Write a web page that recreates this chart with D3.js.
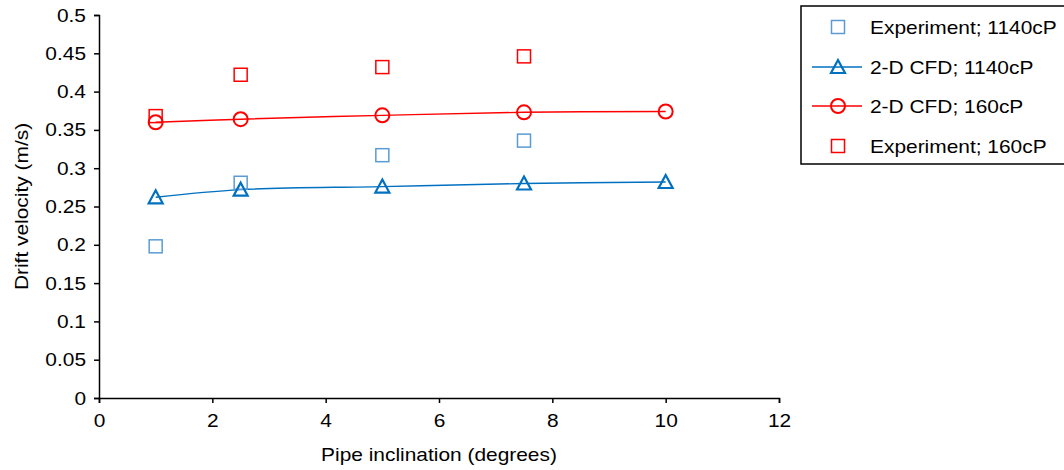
<!DOCTYPE html>
<html lang="en">
<head>
	<meta charset="UTF-8">
	<title>Drift velocity</title>
	<script src="https://cdn.jsdelivr.net/npm/d3@7"></script>
	<style>
		body { margin: 0; background: white; }
		svg text { font-family: "Liberation Sans", Arial, sans-serif; fill: #000; }
	</style>
</head>
<body>
	<div id="vis"></div>

	<script>
		// inclination angles (degrees)
		var expX = [1, 2.5, 5, 7.5];
		var cfdX = [1, 2.5, 5, 7.5, 10];

		// drift velocity (m/s)
		var exp1140 = [0.198, 0.281, 0.317, 0.336];
		var cfd1140 = [0.262, 0.272, 0.276, 0.280, 0.282];
		var cfd160 = [0.360, 0.364, 0.369, 0.373, 0.374];
		var exp160 = [0.368, 0.422, 0.432, 0.446];

		var xTicks = [0, 2, 4, 6, 8, 10, 12];
		var yTicks = [0, 0.05, 0.1, 0.15, 0.2, 0.25, 0.3, 0.35, 0.4, 0.45, 0.5];

		var legendLabels = ["Experiment; 1140cP", "2-D CFD; 1140cP", "2-D CFD; 160cP", "Experiment; 160cP"];

		var width = 1064;
		var height = 470;
		var margin = {left: 99, right: 285, top: 15, bottom: 72};
		var fontSize = 19;

		var svg = d3.select("#vis").append("svg")
				.attr("width", width)
				.attr("height", height);

		var x = d3.scaleLinear().domain([0, 12]).range([margin.left, width - margin.right]);
		var y = d3.scaleLinear().domain([0, 0.5]).range([height - margin.bottom, margin.top]);

		// axes
		var xAxis = svg.append("g")
			.attr("transform", "translate(0," + y(0) + ")")
			.call(d3.axisBottom(x).tickValues(xTicks).tickSize(5).tickPadding(11).tickFormat(d3.format("d")));

		var yAxis = svg.append("g")
			.attr("transform", "translate(" + x(0) + ",0)")
			.call(d3.axisLeft(y).tickValues(yTicks).tickSize(5).tickPadding(8).tickFormat(function(d){ return d === 0 ? "0" : String(+d.toFixed(2)); }));

		[xAxis, yAxis].forEach(function(g){
			g.select(".domain").attr("stroke", "#000").attr("stroke-width", 1.5);
			g.selectAll(".tick line").attr("stroke", "#000").attr("stroke-width", 1.5);
			g.selectAll(".tick text").attr("font-size", fontSize).attr("fill", "#000");
		});

		// axis titles
		svg.append("text")
			.attr("x", x(6))
			.attr("y", 461)
			.attr("text-anchor", "middle")
			.attr("font-size", fontSize)
			.text("Pipe inclination (degrees)");

		svg.append("text")
			.attr("transform", "translate(28," + y(0.25) + ") rotate(-90)")
			.attr("text-anchor", "middle")
			.attr("font-size", fontSize)
			.text("Drift velocity (m/s)");

		// marker helpers
		function square(g, cx, cy, color) {
			g.append("rect")
				.attr("x", cx - 6.5).attr("y", cy - 6.5)
				.attr("width", 13).attr("height", 13)
				.attr("fill", "none").attr("stroke", color).attr("stroke-width", 1.5);
		}
		function circle(g, cx, cy, color) {
			g.append("circle")
				.attr("cx", cx).attr("cy", cy).attr("r", 7)
				.attr("fill", "none").attr("stroke", color).attr("stroke-width", 2);
		}
		function triangle(g, cx, cy, color) {
			g.append("path")
				.attr("d", "M" + cx + "," + (cy - 7) + "L" + (cx + 7) + "," + (cy + 6) + "L" + (cx - 7) + "," + (cy + 6) + "Z")
				.attr("fill", "none").attr("stroke", color).attr("stroke-width", 2.2);
		}

		var line = d3.line()
			.x(function(d){ return x(d[0]); })
			.y(function(d){ return y(d[1]); })
			.curve(d3.curveCatmullRom.alpha(0.5));

		var plot = svg.append("g");

		// 2-D CFD lines
		plot.append("path")
			.datum(d3.zip(cfdX, cfd1140))
			.attr("d", line)
			.attr("fill", "none").attr("stroke", "#0070C0").attr("stroke-width", 1.4);
		plot.append("path")
			.datum(d3.zip(cfdX, cfd160))
			.attr("d", line)
			.attr("fill", "none").attr("stroke", "#FF0000").attr("stroke-width", 1.4);

		expX.forEach(function(d, i){ square(plot, x(d), y(exp1140[i]), "#5B9BD5"); });
		cfdX.forEach(function(d, i){ triangle(plot, x(d), y(cfd1140[i]), "#0070C0"); });
		cfdX.forEach(function(d, i){ circle(plot, x(d), y(cfd160[i]), "#FF0000"); });
		expX.forEach(function(d, i){ square(plot, x(d), y(exp160[i]), "#FF0000"); });

		// legend
		var legend = svg.append("g");
		legend.append("rect")
			.attr("x", 801).attr("y", 6)
			.attr("width", 275).attr("height", 158)
			.attr("fill", "white").attr("stroke", "#000").attr("stroke-width", 1.5);

		var legendY = [27, 67, 106, 146];
		var lx = 838;
		legendLabels.forEach(function(label, i){
			var ly = legendY[i];
			if (i === 0) square(legend, lx, ly, "#5B9BD5");
			if (i === 1) {
				legend.append("line").attr("x1", 812).attr("x2", 862).attr("y1", ly).attr("y2", ly)
					.attr("stroke", "#0070C0").attr("stroke-width", 1.4);
				triangle(legend, lx, ly, "#0070C0");
			}
			if (i === 2) {
				legend.append("line").attr("x1", 812).attr("x2", 862).attr("y1", ly).attr("y2", ly)
					.attr("stroke", "#FF0000").attr("stroke-width", 1.4);
				circle(legend, lx, ly, "#FF0000");
			}
			if (i === 3) square(legend, lx, ly, "#FF0000");
			legend.append("text")
				.attr("x", 870).attr("y", ly)
				.attr("dy", "0.35em")
				.attr("font-size", fontSize)
				.text(label);
		});

		// the original font is a little wider than Liberation Sans, stretch every label
		svg.selectAll("text").each(function(){
			var len = this.getComputedTextLength();
			d3.select(this)
				.attr("textLength", len * 1.1)
				.attr("lengthAdjust", "spacingAndGlyphs");
		});
	</script>
</body>
</html>
